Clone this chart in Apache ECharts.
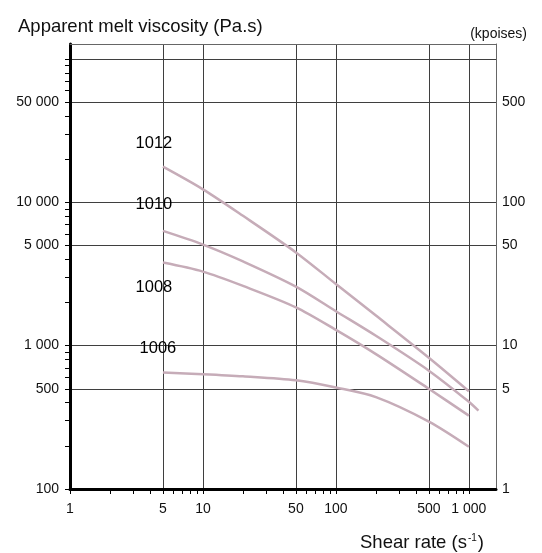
<!DOCTYPE html>
<html><head><meta charset="utf-8">
<script src="https://cdn.jsdelivr.net/npm/echarts@6/dist/echarts.min.js"></script>
<style>html,body{margin:0;padding:0;background:#fff}#c{width:542px;height:553px}</style>
</head><body><div id="c"></div>
<script>
// ---- data ----
const shearRate = [5, 10, 20, 50, 100, 200, 500, 1000];
const shearRate1010 = [5, 10, 20, 50, 100, 200, 500, 1000, 1180];
const visc1012 = [17700, 12300, 8040, 4470, 2690, 1620, 824, 481];
const visc1010 = [6310, 5070, 3870, 2582, 1738, 1171, 669, 406, 352];
const visc1008 = [3794, 3283, 2610, 1850, 1288, 873, 500, 325];
const visc1006 = [649, 632, 611, 573, 510, 437, 295, 197];
const curveNames = ['1012', '1010', '1008', '1006'];

const xTickLabels = [1, 5, 10, 50, 100, 500, 1000];
const xGridValues = [5, 10, 50, 100, 500, 1000];
const yTickLabels = [100, 500, 1000, 5000, 10000, 50000];
const yTickLabelsKp = [1, 5, 10, 50, 100, 500];
const yGridValuesKp = [5, 10, 50, 100, 500, 1000];

// ---- helpers ----
const FONT = 'Liberation Sans, Arial, Helvetica, sans-serif';
function minorTicks(lo, hi) {
  const out = [];
  for (let d = lo; d < hi; d *= 10) for (let k = 1; k <= 9; k++) out.push(k * d);
  out.push(hi);
  return out;
}
function fmt(n) { return String(n).replace(/\B(?=(\d{3})+(?!\d))/g, ' '); }

const curves = [
  { name: curveNames[0], x: shearRate, y: visc1012, off: [-9, -23] },
  { name: curveNames[1], x: shearRate1010, y: visc1010, off: [-9, -26] },
  { name: curveNames[2], x: shearRate, y: visc1008, off: [-9, 25] },
  { name: curveNames[3], x: shearRate, y: visc1006, off: [-5, -24] }
];
const CURVE_COLOR = '#c6acb8';
const GRID_COLOR = '#3f3f3f';

const series = curves.map(c => ({
  type: 'line', name: c.name, xAxisIndex: 0, yAxisIndex: 0,
  data: c.x.map((x, i) => [x, c.y[i]]),
  smooth: 0.3, symbol: 'none', silent: true,
  lineStyle: { color: CURVE_COLOR, width: 2.5 }, z: 3,
  markPoint: {
    silent: true, symbol: 'circle', symbolSize: 0,
    itemStyle: { color: '#000', opacity: 1 },
    label: { show: true, position: 'inside', formatter: '{b}', offset: c.off,
      fontSize: 16.5, fontFamily: FONT, color: '#000', fontWeight: 'normal', textBorderWidth: 0 },
    data: [{ name: c.name, coord: [c.x[0], c.y[0]] }]
  }
}));

const option = {
  animation: false,
  backgroundColor: '#fff',
  grid: { left: 70, top: 44, right: 46, bottom: 64, containLabel: false },
  title: [
    { text: 'Apparent melt viscosity (Pa.s)', left: 13, top: 12,
      textStyle: { fontFamily: FONT, fontSize: 18.5, fontWeight: 'normal', color: '#111' } },
    { text: '(kpoises)', right: 10, top: 22,
      textStyle: { fontFamily: FONT, fontSize: 14, fontWeight: 'normal', color: '#111' } },
    { text: '{a|Shear rate (s}{s|-1}{a|)}', right: 53, top: 528,
      textStyle: { fontWeight: 'normal', rich: {
        a: { fontFamily: FONT, fontSize: 18.5, fontWeight: 'normal', color: '#111' },
        s: { fontFamily: FONT, fontSize: 10, fontWeight: 'normal', color: '#111', verticalAlign: 'top', padding: [0, 1, 6, 1] }
      } } }
  ],
  xAxis: [
    { type: 'log', logBase: 10, min: 1, max: 1600, position: 'bottom',
      axisLine: { show: true, lineStyle: { color: '#000', width: 3 } },
      axisTick: { show: true, inside: false, length: 5, customValues: minorTicks(1, 1000), lineStyle: { color: '#000', width: 1 } },
      axisLabel: { show: true, customValues: xTickLabels, formatter: v => fmt(v), margin: 13,
        fontFamily: FONT, fontSize: 14, color: '#111' },
      splitLine: { show: false }, minorSplitLine: { show: false } },
    { type: 'log', logBase: 10, min: 1, max: 1600, position: 'top',
      axisLine: { show: true, onZero: false, lineStyle: { color: '#666', width: 1 } },
      axisTick: { show: false, customValues: xGridValues },
      axisLabel: { show: false },
      splitLine: { show: true, lineStyle: { color: GRID_COLOR, width: 1 } } }
  ],
  yAxis: [
    { type: 'log', logBase: 10, min: 100, max: 127000, position: 'left',
      axisLine: { show: true, onZero: false, lineStyle: { color: '#000', width: 3 } },
      axisTick: { show: true, inside: false, length: 5, customValues: minorTicks(100, 100000), lineStyle: { color: '#000', width: 1 } },
      axisLabel: { show: true, customValues: yTickLabels, formatter: v => fmt(v), margin: 11,
        fontFamily: FONT, fontSize: 14, color: '#111' },
      splitLine: { show: false } },
    { type: 'log', logBase: 10, min: 1, max: 1270, position: 'right',
      axisLine: { show: true, onZero: false, lineStyle: { color: '#666', width: 1 } },
      axisTick: { show: false, customValues: yGridValuesKp },
      axisLabel: { show: true, customValues: yTickLabelsKp, formatter: v => fmt(v), margin: 6,
        fontFamily: FONT, fontSize: 14, color: '#111' },
      splitLine: { show: true, lineStyle: { color: GRID_COLOR, width: 1 } } }
  ],
  series: series
};
const chart = echarts.init(document.getElementById('c'), null, { renderer: 'canvas' });
chart.setOption(option);
</script>
</body></html>
